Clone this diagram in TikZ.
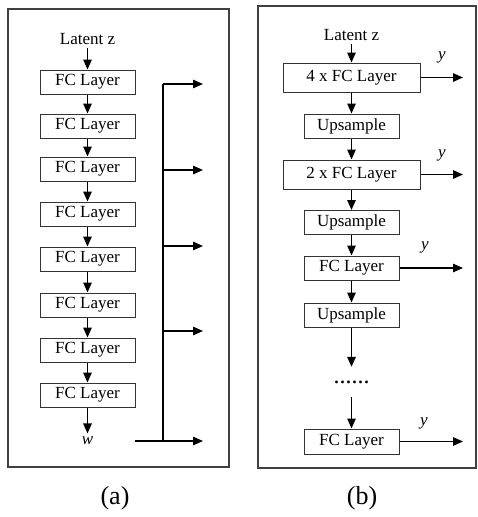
\documentclass[tikz,border=0pt]{standalone}
\usepackage{fontspec}
\setmainfont{Liberation Serif}
\usetikzlibrary{arrows.meta}
\begin{document}
\begin{tikzpicture}[x=1pt,y=-1pt,
  every node/.style={font=\fontsize{17}{20}\selectfont},
  frame/.style={draw=black!75,line width=1.2pt},
  layer/.style={draw=black!80,line width=1pt,minimum height=24pt,minimum width=95pt,inner sep=0pt},
  widelayer/.style={layer,minimum width=137pt,minimum height=29pt},
  flow/.style={line width=1.4pt,-{Triangle[length=10pt,width=8.5pt]}},
  bus/.style={line width=1.4pt},
  caption/.style={font=\fontsize{26}{30}\selectfont}]
\useasboundingbox (0,0) rectangle (477,517);

% panel frames
\draw[frame] (8,9) rectangle (229,467);
\draw[frame] (258,6) rectangle (476,468);

% ---------- (a) mapping network ----------
\node (za) at (87.5,39) {Latent z};
\foreach \i/\y in {1/82,2/126,3/169,4/214,5/259,6/305,7/350,8/395}
  \node[layer] (fa\i) at (87.5,\y) {FC Layer};
\node (w) at (87.5,441) {\itshape w};

\draw[flow] (za) -- (fa1);
\foreach \i [evaluate=\i as \j using int(\i+1)] in {1,...,7}
  \draw[flow] (fa\i) -- (fa\j);
\draw[flow] (fa8) -- (w);

% broadcast bus
\coordinate (wl) at (135,441);
\coordinate (bt) at (163,84);
\coordinate (bb) at (163,441);
\draw[bus] (bt) -- (bb);
\draw[flow] (wl) -- (203,441) coordinate (oa5);
\foreach \k/\y in {1/84,2/170,3/246,4/331} {
  \coordinate (ba\k) at (163,\y);
  \coordinate (oa\k) at (203,\y);
  \draw[flow] (ba\k) -- (oa\k);
}

% ---------- (b) synthesis network ----------
\node (zb) at (351.5,35) {Latent z};
\node[widelayer] (b1) at (351.5,77.5) {4 x FC Layer};
\node[layer] (u1) at (351.5,126) {Upsample};
\node[widelayer] (b2) at (351.5,174.5) {2 x FC Layer};
\node[layer] (u2) at (351.5,222.5) {Upsample};
\node[layer] (b3) at (351.5,268) {FC Layer};
\node[layer] (u3) at (351.5,315) {Upsample};
\node[inner sep=0pt,minimum height=30pt,font=\fontsize{24}{24}\selectfont] (dots) at (351.5,382) {......};
\node[layer,minimum height=25pt] (b4) at (351.5,441.5) {FC Layer};

\draw[flow] (zb) -- (b1);
\draw[flow] (b1) -- (u1);
\draw[flow] (u1) -- (b2);
\draw[flow] (b2) -- (u2);
\draw[flow] (u2) -- (b3);
\draw[flow] (b3) -- (u3);
\draw[flow] (u3) -- (dots);
\draw[flow] (dots) -- (b4);

% outputs y
\foreach \n in {b1,b2,b3,b4}
  \draw[flow] (\n.east) -- (\n.east -| 463,0);
\node (y1) at (442,57) {\itshape y};
\node (y2) at (442,155) {\itshape y};
\node (y3) at (425,247) {\itshape y};
\node (y4) at (424,423) {\itshape y};

% captions
\node[caption] (ca) at (115,498) {(a)};
\node[caption] (cb) at (362,498) {(b)};
\end{tikzpicture}
\end{document}
